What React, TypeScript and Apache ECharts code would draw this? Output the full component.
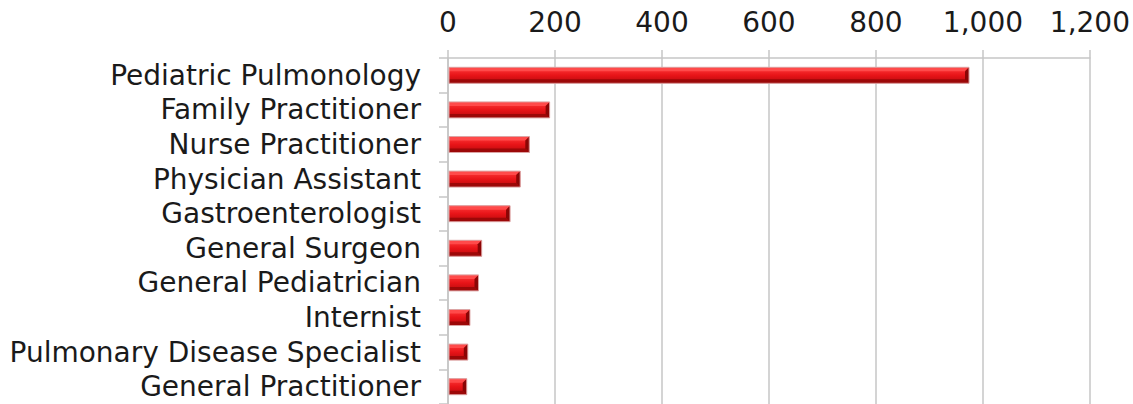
import React, { useEffect, useRef } from "react";
import * as echarts from "echarts";

const categories = [
  "Pediatric Pulmonology",
  "Family Practitioner",
  "Nurse Practitioner",
  "Physician Assistant",
  "Gastroenterologist",
  "General Surgeon",
  "General Pediatrician",
  "Internist",
  "Pulmonary Disease Specialist",
  "General Practitioner",
];
const values = [974, 190, 152, 135, 116, 63, 57, 41, 37, 35];
const tickValues = [0, 200, 400, 600, 800, 1000, 1200];

const FONT = "DejaVu Sans";
const GRID = "#c6c6c6";

export default function App() {
  const ref = useRef<HTMLDivElement>(null);
  useEffect(() => {
    if (!ref.current) return;
    const chart = echarts.init(ref.current, undefined, { renderer: "svg" });
    const option: any = {
      animation: false,
      backgroundColor: "#ffffff",
      grid: { left: 448, right: 41, top: 58, bottom: -1, containLabel: false },
      xAxis: {
        type: "value",
        position: "top",
        min: tickValues[0],
        max: tickValues[tickValues.length - 1],
        interval: 200,
        axisLine: { show: true, lineStyle: { color: GRID, width: 1.5 } },
        axisTick: { show: true, length: 8, lineStyle: { color: GRID, width: 1.5 } },
        splitLine: { show: true, lineStyle: { color: GRID, width: 1.5 } },
        axisLabel: {
          margin: 22,
          color: "#1a1a1a",
          fontFamily: FONT,
          fontSize: 28,
          formatter: (v: number) => v.toLocaleString("en-US"),
        },
      },
      yAxis: {
        type: "category",
        data: categories,
        inverse: true,
        axisLine: { show: true, lineStyle: { color: GRID, width: 1.5 } },
        axisTick: { show: true, length: 9, alignWithLabel: false, interval: 0, lineStyle: { color: GRID, width: 1.5 } },
        splitLine: { show: false },
        axisLabel: {
          interval: 0,
          hideOverlap: false,
          margin: 27,
          color: "#1a1a1a",
          fontFamily: FONT,
          fontSize: 28,
        },
      },
      series: [
        {
          type: "custom",
          encode: { x: 1, y: 0 },
          data: values.map((v, i) => [i, v]),
          renderItem: (params: any, api: any) => {
            const idx = api.value(0);
            const val = api.value(1);
            const start = api.coord([0, idx]);
            const end = api.coord([val, idx]);
            const h = 16;
            const x0 = start[0] + 1;
            const x1 = end[0];
            const y0 = start[1] - h / 2;
            const y1 = start[1] + h / 2;
            const b = Math.min(4, (x1 - x0) / 3);
            return {
              type: "group",
              children: [
                {
                  type: "rect",
                  shape: { x: x0, y: y0, width: x1 - x0, height: h },
                  style: {
                    fill: new echarts.graphic.LinearGradient(0, 0, 0, 1, [
                      { offset: 0, color: "#ff3b3b" },
                      { offset: 0.5, color: "#e81418" },
                      { offset: 1, color: "#b80a0c" },
                    ]),
                  },
                },
                {
                  type: "polygon",
                  shape: { points: [[x0, y0], [x1, y0], [x1 - b, y0 + b], [x0, y0 + b]] },
                  style: { fill: "#ff4a4a" },
                },
                {
                  type: "polygon",
                  shape: { points: [[x0, y1 - b], [x1 - b, y1 - b], [x1, y1], [x0, y1]] },
                  style: { fill: "#9c0808" },
                },
                {
                  type: "polygon",
                  shape: { points: [[x1 - b, y0 + b], [x1, y0], [x1, y1], [x1 - b, y1 - b]] },
                  style: { fill: "#8a0505" },
                },
                {
                  type: "rect",
                  shape: { x: x0, y: y0, width: x1 - x0, height: h },
                  style: { fill: "none", stroke: "#dca4a4", lineWidth: 1 },
                },
              ],
            };
          },
        },
      ],
    };
    chart.setOption(option);
    return () => chart.dispose();
  }, []);
  return (
    <div
      ref={ref}
      style={{ position: "absolute", left: 0, top: 0, width: 1133, height: 404 }}
    />
  );
}
